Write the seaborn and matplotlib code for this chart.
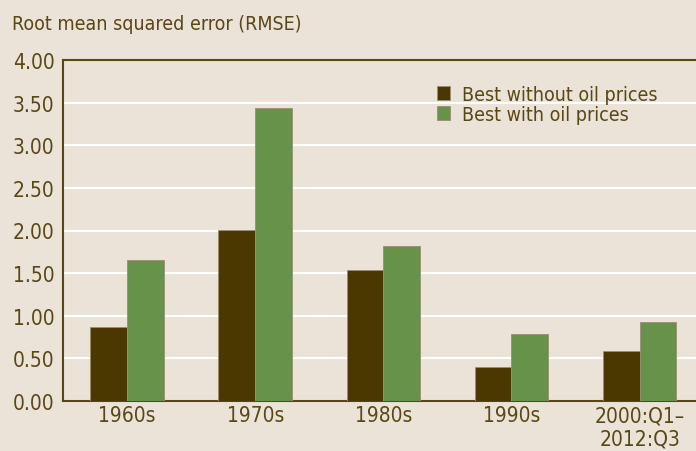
import matplotlib
matplotlib.use("Agg")
import matplotlib.pyplot as plt
import seaborn as sns
import pandas as pd

periods = ["1960s", "1970s", "1980s", "1990s", "2000:Q1–\n2012:Q3"]
without_oil = [0.87, 2.01, 1.54, 0.40, 0.59]
with_oil = [1.65, 3.44, 1.82, 0.79, 0.93]
series_names = ["Best without oil prices", "Best with oil prices"]
yticks = [0.0, 0.5, 1.0, 1.5, 2.0, 2.5, 3.0, 3.5, 4.0]

bg = "#ebe3d7"
txt = "#5a4716"
dark = "#4a3800"
green = "#67924a"

df = pd.DataFrame({
    "period": periods * 2,
    "rmse": without_oil + with_oil,
    "series": [series_names[0]] * len(periods) + [series_names[1]] * len(periods),
})

sns.set_style("white")
plt.rcParams["font.family"] = ["DejaVu Sans"]
plt.rcParams["font.stretch"] = "condensed"

fig = plt.figure(figsize=(6.96, 4.52), dpi=100, facecolor=bg)
ax = fig.add_axes([63 / 696, 1 - 402 / 452, 1 - 63 / 696, (402 - 61) / 452])
ax.set_facecolor(bg)

sns.barplot(data=df, x="period", y="rmse", hue="series", saturation=1,
            palette=[dark, green], width=0.575, ax=ax,
            edgecolor="#9a8e74", linewidth=0.6, zorder=3)

ax.set_ylim(0, 4)
ax.set_xlim(-0.5, 4.44)
ax.set_yticks(yticks)
ax.set_yticklabels([f"{v:.2f}" for v in yticks], fontsize=15, color=txt)
ax.tick_params(axis="y", direction="in", length=8, width=1.5, color="#7a6a40", pad=6)
ax.tick_params(axis="x", length=0, labelsize=15, labelcolor=txt, pad=3)
ax.set_xlabel("")
ax.set_ylabel("")

# white gridlines behind the bars
for v in yticks[1:-1]:
    ax.axhline(v, color="white", lw=1.5, zorder=1)

for s in ["left", "bottom", "top"]:
    ax.spines[s].set_visible(True)
    ax.spines[s].set_color(txt)
    ax.spines[s].set_linewidth(1.5)
ax.spines["right"].set_visible(False)

leg = ax.legend(loc="upper left", bbox_to_anchor=(0.578, 0.95), frameon=False,
                fontsize=14, handlelength=0.7, handleheight=0.7, handletextpad=0.6,
                labelspacing=0.05, borderaxespad=0)
for t in leg.get_texts():
    t.set_color(txt)

fig.text(12 / 696, 1 - 25 / 452, "Root mean squared error (RMSE)", fontsize=14,
         color=txt, va="center", ha="left")

fig.savefig("out.png", dpi=100, facecolor=bg)
